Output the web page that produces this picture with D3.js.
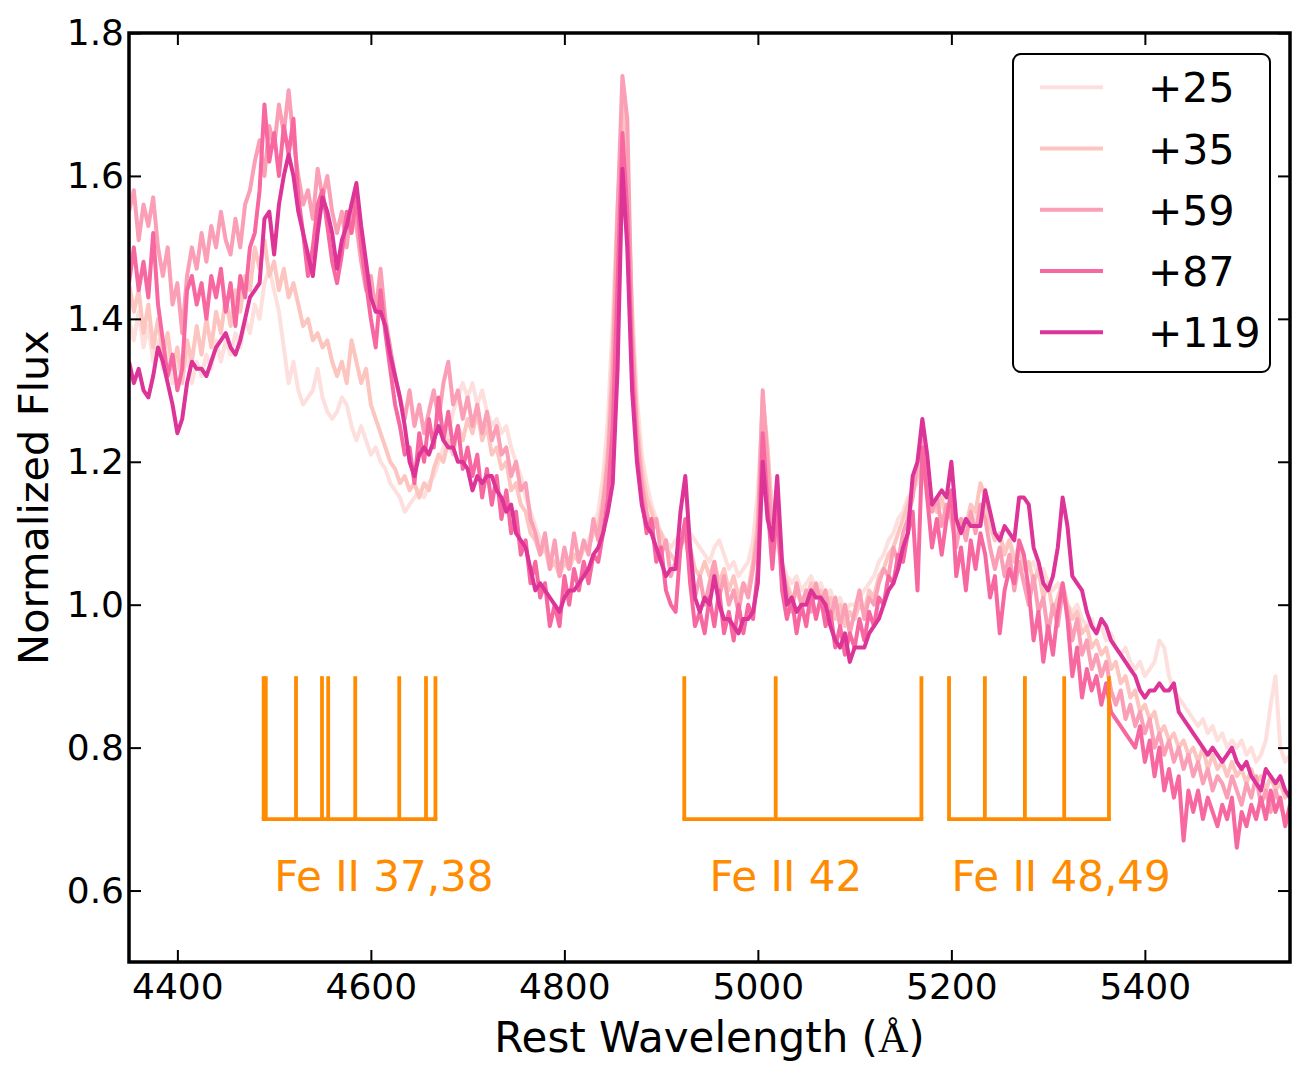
<!DOCTYPE html>
<html>
<head>
<meta charset="utf-8">
<script src="https://cdn.jsdelivr.net/npm/d3@7"></script>
<style>
body { margin: 0; background: #fff; }
svg { display: block; font-family: "DejaVu Sans", sans-serif; }
</style>
</head>
<body>
<div class="chart"></div>
<script>
// wavelength grid (Å) shared by all spectra
const waveStart = 4350
const waveEnd = 5550
const waveStep = 5
const wavelength = d3.range(waveStart, waveEnd + 1, waveStep)

const epochs = ['+25', '+35', '+59', '+87', '+119']
const epochColors = ['#fde0dd', '#fcc5c0', '#fa9fb5', '#f768a1', '#dd3497']

const flux25 = [
1.40,1.37,1.41,1.36,1.39,1.34,1.37,1.33,1.36,1.31,1.34,1.32,1.35,1.31,1.34,1.32,1.35,1.33,1.37,1.34,
1.37,1.35,1.38,1.36,1.40,1.38,1.42,1.40,1.45,1.47,1.44,1.41,1.36,1.31,1.34,1.30,1.28,1.29,1.30,1.33,
1.29,1.27,1.26,1.27,1.29,1.28,1.25,1.23,1.25,1.23,1.21,1.22,1.20,1.19,1.17,1.16,1.15,1.13,1.14,1.15,
1.16,1.15,1.17,1.18,1.20,1.22,1.24,1.27,1.29,1.31,1.29,1.31,1.28,1.30,1.27,1.25,1.26,1.24,1.25,1.22,
1.20,1.18,1.15,1.13,1.11,1.09,1.08,1.07,1.06,1.05,1.06,1.05,1.07,1.06,1.08,1.09,1.11,1.13,1.18,1.26,
1.40,1.56,1.66,1.58,1.42,1.29,1.21,1.17,1.14,1.12,1.10,1.09,1.08,1.09,1.10,1.11,1.10,1.09,1.08,1.07,
1.06,1.08,1.09,1.07,1.05,1.06,1.04,1.05,1.06,1.09,1.16,1.28,1.22,1.12,1.08,1.06,1.04,1.03,1.04,1.02,
1.03,1.04,1.02,1.03,1.01,1.02,1.00,1.01,0.99,1.00,1.00,1.01,1.02,1.03,1.04,1.06,1.07,1.09,1.10,1.12,
1.13,1.15,1.16,1.17,1.18,1.16,1.14,1.13,1.14,1.13,1.12,1.11,1.12,1.11,1.13,1.12,1.14,1.13,1.11,1.10,
1.09,1.08,1.09,1.07,1.08,1.06,1.05,1.06,1.04,1.05,1.03,1.02,1.03,1.01,1.00,0.99,1.00,0.98,0.97,0.98,
0.96,0.97,0.95,0.96,0.94,0.93,0.94,0.92,0.91,0.92,0.90,0.91,0.92,0.95,0.94,0.90,0.88,0.87,0.86,0.85,
0.84,0.83,0.84,0.82,0.83,0.81,0.82,0.80,0.81,0.80,0.81,0.79,0.80,0.78,0.79,0.81,0.86,0.90,0.80,0.78,
0.79]

const flux35 = [
1.45,1.41,1.44,1.38,1.42,1.36,1.40,1.35,1.38,1.33,1.36,1.31,1.37,1.34,1.39,1.35,1.40,1.36,1.41,1.38,
1.43,1.39,1.44,1.41,1.46,1.44,1.50,1.47,1.51,1.46,1.48,1.44,1.47,1.43,1.45,1.42,1.39,1.40,1.37,1.38,
1.36,1.37,1.34,1.32,1.34,1.31,1.37,1.34,1.31,1.33,1.28,1.26,1.24,1.22,1.20,1.19,1.17,1.18,1.16,1.17,
1.15,1.17,1.16,1.19,1.21,1.20,1.23,1.21,1.25,1.23,1.26,1.24,1.27,1.23,1.25,1.21,1.22,1.19,1.20,1.16,
1.17,1.14,1.13,1.10,1.09,1.07,1.08,1.05,1.06,1.04,1.06,1.05,1.07,1.06,1.08,1.08,1.10,1.11,1.15,1.22,
1.36,1.55,1.70,1.62,1.40,1.26,1.19,1.15,1.13,1.11,1.10,1.08,1.07,1.06,1.08,1.10,1.08,1.05,1.04,1.06,
1.04,1.06,1.03,1.05,1.02,1.04,1.01,1.03,1.02,1.06,1.12,1.29,1.22,1.12,1.10,1.05,1.03,1.01,1.02,1.00,
1.01,1.03,1.01,1.02,0.99,1.01,0.98,1.00,0.97,0.99,0.98,1.00,0.99,1.02,1.01,1.04,1.05,1.07,1.08,1.10,
1.12,1.14,1.16,1.18,1.20,1.17,1.14,1.13,1.15,1.12,1.13,1.10,1.12,1.11,1.14,1.13,1.17,1.15,1.11,1.09,
1.10,1.07,1.09,1.06,1.08,1.05,1.06,1.03,1.05,1.01,1.03,0.99,1.01,1.03,1.00,0.98,0.99,0.96,0.97,0.94,
0.95,0.93,0.94,0.91,0.92,0.89,0.90,0.87,0.88,0.85,0.86,0.84,0.85,0.82,0.83,0.81,0.82,0.80,0.81,0.79,
0.80,0.78,0.80,0.77,0.79,0.77,0.78,0.76,0.78,0.76,0.77,0.75,0.77,0.75,0.76,0.74,0.76,0.74,0.75,0.73,
0.74]

const flux59 = [
1.55,1.58,1.51,1.56,1.53,1.57,1.50,1.46,1.50,1.42,1.45,1.38,1.46,1.50,1.47,1.52,1.48,1.53,1.50,1.55,
1.51,1.49,1.54,1.50,1.56,1.58,1.62,1.65,1.60,1.67,1.64,1.70,1.66,1.72,1.65,1.60,1.56,1.58,1.54,1.61,
1.57,1.60,1.55,1.52,1.55,1.50,1.56,1.53,1.48,1.44,1.46,1.41,1.47,1.40,1.36,1.32,1.29,1.26,1.30,1.25,
1.28,1.24,1.27,1.30,1.26,1.31,1.34,1.28,1.30,1.26,1.29,1.25,1.28,1.24,1.27,1.23,1.25,1.21,1.22,1.18,
1.20,1.16,1.17,1.12,1.10,1.07,1.10,1.05,1.09,1.04,1.08,1.05,1.10,1.06,1.09,1.07,1.12,1.09,1.14,1.20,
1.32,1.55,1.74,1.68,1.38,1.24,1.17,1.13,1.10,1.12,1.07,1.09,1.04,1.06,1.08,1.10,1.05,1.01,1.04,1.00,
1.03,1.06,1.01,1.04,1.00,1.02,0.99,1.03,1.01,1.05,1.10,1.30,1.20,1.08,1.12,1.05,1.02,0.99,1.03,1.00,
1.02,0.99,1.03,1.00,1.02,0.98,1.01,0.97,1.00,0.96,0.99,1.02,0.98,1.01,1.00,1.03,1.05,1.04,1.08,1.06,
1.10,1.12,1.15,1.20,1.24,1.18,1.13,1.15,1.11,1.14,1.12,1.08,1.12,1.09,1.13,1.10,1.14,1.12,1.08,1.05,
1.08,1.04,1.07,1.02,1.06,1.03,1.00,1.04,0.99,1.01,0.96,1.00,0.97,1.02,0.99,0.95,0.98,0.93,0.95,0.91,
0.93,0.90,0.92,0.88,0.86,0.88,0.84,0.86,0.83,0.85,0.82,0.84,0.80,0.82,0.79,0.81,0.78,0.80,0.77,0.79,
0.76,0.78,0.75,0.77,0.74,0.76,0.75,0.73,0.76,0.74,0.72,0.75,0.73,0.76,0.72,0.74,0.71,0.74,0.72,0.70,
0.71]

const flux87 = [
1.45,1.50,1.44,1.48,1.43,1.52,1.42,1.37,1.32,1.35,1.30,1.33,1.44,1.46,1.42,1.45,1.40,1.46,1.43,1.47,
1.41,1.45,1.39,1.46,1.43,1.50,1.52,1.58,1.70,1.62,1.66,1.60,1.67,1.63,1.68,1.57,1.52,1.46,1.50,1.56,
1.58,1.53,1.48,1.45,1.49,1.55,1.52,1.57,1.50,1.45,1.40,1.36,1.44,1.38,1.33,1.28,1.25,1.21,1.22,1.17,
1.24,1.20,1.26,1.22,1.29,1.23,1.27,1.22,1.25,1.19,1.22,1.18,1.21,1.15,1.19,1.14,1.18,1.12,1.16,1.10,
1.13,1.07,1.09,1.03,1.06,1.01,1.03,0.97,1.00,0.97,1.04,1.00,1.05,1.02,1.06,1.03,1.07,1.06,1.10,1.15,
1.25,1.45,1.66,1.55,1.33,1.21,1.15,1.10,1.12,1.06,1.08,1.02,1.00,0.99,1.08,1.12,1.03,0.97,0.99,0.96,
1.01,0.97,1.02,0.96,0.99,0.95,1.00,0.96,1.00,0.98,1.05,1.24,1.14,1.05,1.14,1.02,0.98,1.01,0.96,1.00,
0.97,1.02,0.98,1.01,0.97,0.99,0.94,0.97,0.93,0.96,0.94,0.98,0.95,0.99,0.97,1.01,1.00,1.04,1.03,1.07,
1.06,1.10,1.13,1.02,1.22,1.15,1.08,1.12,1.07,1.12,1.16,1.04,1.08,1.02,1.09,1.05,1.10,1.07,1.01,1.04,
0.96,1.02,1.05,1.03,1.09,1.07,1.02,0.95,0.99,0.92,0.97,0.93,0.99,1.03,0.98,0.90,0.94,0.87,0.91,0.88,
0.90,0.86,0.89,0.85,0.84,0.83,0.82,0.81,0.80,0.83,0.78,0.81,0.76,0.80,0.74,0.77,0.73,0.76,0.67,0.74,
0.71,0.74,0.70,0.73,0.71,0.69,0.72,0.70,0.73,0.66,0.71,0.69,0.72,0.70,0.73,0.70,0.74,0.71,0.73,0.69,
0.72]

const flux119 = [
1.34,1.31,1.33,1.30,1.29,1.32,1.36,1.34,1.31,1.28,1.24,1.26,1.31,1.34,1.33,1.33,1.32,1.34,1.36,1.37,
1.38,1.36,1.35,1.37,1.40,1.43,1.44,1.45,1.54,1.55,1.49,1.56,1.60,1.63,1.60,1.55,1.52,1.49,1.46,1.52,
1.57,1.55,1.52,1.47,1.51,1.53,1.56,1.59,1.53,1.48,1.43,1.41,1.41,1.39,1.35,1.32,1.29,1.25,1.20,1.18,
1.21,1.22,1.21,1.23,1.25,1.23,1.22,1.22,1.20,1.20,1.19,1.16,1.18,1.17,1.18,1.18,1.16,1.15,1.13,1.14,
1.10,1.09,1.08,1.05,1.02,1.03,1.02,1.01,1.00,0.99,1.01,1.02,1.02,1.03,1.04,1.05,1.07,1.08,1.10,1.13,
1.17,1.33,1.61,1.50,1.30,1.20,1.14,1.11,1.10,1.08,1.06,1.04,1.05,1.05,1.13,1.18,1.08,1.01,0.99,1.01,
1.00,1.04,1.00,0.98,0.98,0.97,0.96,0.98,0.98,0.99,1.03,1.20,1.12,1.09,1.18,1.06,1.00,1.01,0.99,1.00,
1.00,1.02,1.01,1.01,1.00,0.97,0.95,0.94,0.96,0.92,0.94,0.94,0.94,0.96,0.97,0.98,1.00,1.02,1.03,1.05,
1.08,1.10,1.18,1.20,1.26,1.21,1.14,1.15,1.16,1.15,1.20,1.12,1.10,1.12,1.11,1.11,1.11,1.16,1.13,1.10,
1.09,1.11,1.10,1.09,1.15,1.15,1.14,1.08,1.06,1.03,1.02,1.04,1.08,1.15,1.11,1.04,1.03,1.02,0.99,0.97,
0.96,0.98,0.97,0.95,0.94,0.93,0.92,0.91,0.90,0.88,0.87,0.88,0.88,0.89,0.88,0.88,0.89,0.85,0.84,0.83,
0.82,0.81,0.80,0.79,0.80,0.79,0.78,0.79,0.80,0.78,0.77,0.78,0.76,0.75,0.74,0.77,0.76,0.75,0.76,0.74,
0.73]

const spectra = [flux25, flux35, flux59, flux87, flux119]

const xTicks = [4400, 4600, 4800, 5000, 5200, 5400]
const yTicks = [0.6, 0.8, 1.0, 1.2, 1.4, 1.6, 1.8]

// Fe II multiplets
const feNames = ['Fe II 37,38', 'Fe II 42', 'Fe II 48,49']
const feLines = [
  [4489.18, 4491.40, 4522.63, 4549.47, 4555.89, 4583.83, 4629.34, 4656.98, 4666.75],
  [4923.93, 5018.44, 5169.03],
  [5197.58, 5234.62, 5276.00, 5316.62, 5362.87]
]
const feLabelWave = [4500, 4950, 5200]
const feBase = 0.7
const feTop = 0.9
const feLabelFlux = 0.6

let width = 1307
let height = 1082

let x = d3.scaleLinear()
.domain([waveStart, waveEnd])
.range([129, 1290])

let y = d3.scaleLinear()
.domain([0.5, 1.8])
.range([962, 33])

let svg = d3.select('.chart').append('svg')
.attr('width', width)
.attr('height', height)

svg.append('clipPath')
.attr('id', 'plot-clip')
.append('rect')
.attr('x', x.range()[0])
.attr('y', y.range()[1])
.attr('width', x.range()[1] - x.range()[0])
.attr('height', y.range()[0] - y.range()[1])

let line = d3.line()
.x((d, i) => x(wavelength[i]))
.y(d => y(d))

svg.append('g')
.attr('clip-path', 'url(#plot-clip)')
.selectAll('path')
.data(spectra)
.enter()
.append('path')
.attr('d', line)
.style('fill', 'none')
.style('stroke', (d, i) => epochColors[i])
.style('stroke-width', 4)
.style('stroke-linejoin', 'round')

let orange = '#ff8c00'

let feGroup = svg.append('g')

feLines.forEach((group, gi) => {

	feGroup.selectAll('.fe' + gi)
	.data(group)
	.enter()
	.append('line')
	.attr('class', 'fe' + gi)
	.attr('x1', d => x(d))
	.attr('x2', d => x(d))
	.attr('y1', y(feTop))
	.attr('y2', y(feBase))
	.style('stroke', orange)
	.style('stroke-width', 3.8)

	feGroup.append('line')
	.attr('x1', x(d3.min(group)))
	.attr('x2', x(d3.max(group)))
	.attr('y1', y(feBase))
	.attr('y2', y(feBase))
	.style('stroke', orange)
	.style('stroke-width', 3.8)
	.style('stroke-linecap', 'square')

	feGroup.append('text')
	.attr('x', x(feLabelWave[gi]))
	.attr('y', y(feLabelFlux))
	.style('fill', orange)
	.style('font-size', '42px')
	.text(feNames[gi])
})

let tickLen = 12

let xAxis = svg.append('g')
.attr('transform', 'translate(0,' + y.range()[0] + ')')
.call(d3.axisBottom(x).tickValues(xTicks).tickSizeInner(-tickLen).tickSizeOuter(0).tickPadding(11).tickFormat(d3.format('d')))

let xAxisTop = svg.append('g')
.attr('transform', 'translate(0,' + y.range()[1] + ')')
.call(d3.axisTop(x).tickValues(xTicks).tickSizeInner(-tickLen).tickSizeOuter(0).tickFormat(''))

let yAxis = svg.append('g')
.attr('transform', 'translate(' + x.range()[0] + ',0)')
.call(d3.axisLeft(y).tickValues(yTicks).tickSizeInner(-tickLen).tickSizeOuter(0).tickPadding(5).tickFormat(d3.format('.1f')))

let yAxisRight = svg.append('g')
.attr('transform', 'translate(' + x.range()[1] + ',0)')
.call(d3.axisRight(y).tickValues(yTicks).tickSizeInner(-tickLen).tickSizeOuter(0).tickFormat(''))

svg.selectAll('.domain').remove()

svg.selectAll('.tick line')
.style('stroke', '#000')
.style('stroke-width', 2)

svg.selectAll('.tick text')
.style('font-family', '"DejaVu Sans", sans-serif')
.style('font-size', '36px')
.style('fill', '#000')

svg.append('rect')
.attr('x', x.range()[0])
.attr('y', y.range()[1])
.attr('width', x.range()[1] - x.range()[0])
.attr('height', y.range()[0] - y.range()[1])
.style('fill', 'none')
.style('stroke', '#000')
.style('stroke-width', 3.5)

let xTitle = svg.append('text')
.attr('x', (x.range()[0] + x.range()[1]) / 2)
.attr('y', 1052)
.attr('text-anchor', 'middle')
.style('font-size', '42px')

xTitle.append('tspan').text('Rest Wavelength (')
xTitle.append('tspan').style('font-family', '"Liberation Serif", serif').text('Å')
xTitle.append('tspan').text(')')

svg.append('text')
.attr('transform', 'translate(48,' + (y.range()[0] + y.range()[1]) / 2 + ') rotate(-90)')
.attr('text-anchor', 'middle')
.style('font-size', '41.5px')
.text('Normalized Flux')

// legend
let legend = svg.append('g')

legend.append('rect')
.attr('x', 1013)
.attr('y', 54)
.attr('width', 257)
.attr('height', 318)
.attr('rx', 8)
.style('fill', '#fff')
.style('stroke', '#000')
.style('stroke-width', 2)

let legendItems = legend.selectAll('.item')
.data(epochs)
.enter()
.append('g')
.attr('class', 'item')
.attr('transform', (d, i) => 'translate(0,' + (87.3 + i * 61.25) + ')')

legendItems.append('line')
.attr('x1', 1040)
.attr('x2', 1103)
.style('stroke', (d, i) => epochColors[i])
.style('stroke-width', 4)

legendItems.append('text')
.attr('x', 1148)
.attr('y', 15)
.style('font-size', '41px')
.text(d => d)
</script>
</body>
</html>
